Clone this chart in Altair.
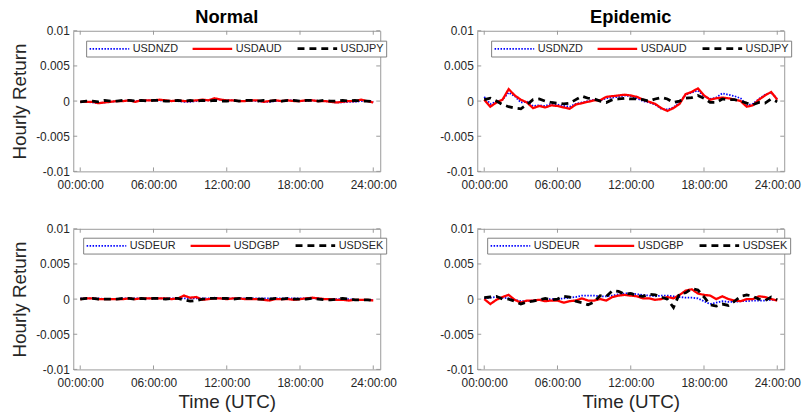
import altair as alt
import pandas as pd

hours = [i * 0.5 for i in range(49)]

# ---- Normal, top (USDNZD, USDAUD, USDJPY)
n_nzd = [-0.0001, -0.0001, -0.0002, -0.0003, -0.0002, -0.0001, 0.0000, 0.0000, 0.0001, 0.0000,
         0.0001, 0.0001, 0.0001, 0.0001, 0.0000, 0.0000, 0.0000, -0.0001, -0.0001, 0.0000,
         0.0001, 0.0001, 0.0003, 0.0002, 0.0001, 0.0001, 0.0000, 0.0000, 0.0001, 0.0000,
         -0.0001, -0.0001, 0.0000, 0.0000, 0.0001, 0.0001, 0.0000, 0.0000, 0.0001, 0.0000,
         0.0000, -0.0001, -0.0002, -0.0002, -0.0001, -0.0001, 0.0000, 0.0000, -0.0001]
n_aud = [-0.0001, -0.0001, -0.0001, -0.0003, -0.0002, -0.0001, 0.0000, 0.0000, 0.0001, -0.0001,
         0.0001, 0.0001, 0.0001, 0.0002, 0.0001, 0.0000, 0.0001, 0.0000, 0.0000, 0.0001,
         0.0002, 0.0001, 0.0004, 0.0002, 0.0001, 0.0001, 0.0000, 0.0000, 0.0001, 0.0001,
         -0.0001, 0.0000, 0.0001, 0.0000, 0.0001, 0.0000, 0.0000, 0.0001, 0.0001, 0.0000,
         0.0000, -0.0001, -0.0002, -0.0001, 0.0000, 0.0000, 0.0002, 0.0000, -0.0002]
n_jpy = [-0.0001, 0.0000, 0.0000, -0.0001, 0.0001, 0.0000, 0.0000, 0.0001, 0.0001, 0.0000,
         0.0001, 0.0000, 0.0001, 0.0001, 0.0000, 0.0000, 0.0001, 0.0000, 0.0001, 0.0000,
         0.0001, 0.0000, 0.0001, 0.0000, 0.0000, 0.0001, 0.0000, 0.0001, 0.0001, 0.0000,
         0.0001, 0.0000, 0.0001, 0.0000, 0.0001, 0.0001, 0.0000, 0.0001, 0.0001, 0.0000,
         0.0001, 0.0000, 0.0000, 0.0001, 0.0000, 0.0001, 0.0000, 0.0000, -0.0001]

# ---- Epidemic, top
e_nzd = [0.0006, -0.0004, -0.0001, 0.0002, 0.0012, 0.0007, -0.0002, -0.0001, -0.0007, -0.0006,
         -0.0007, -0.0004, -0.0005, -0.0007, -0.0008, -0.0004, -0.0002, 0.0000, 0.0002, 0.0001,
         0.0004, 0.0005, 0.0006, 0.0008, 0.0007, 0.0004, 0.0000, -0.0002, -0.0005, -0.0011,
         -0.0012, -0.0009, -0.0002, 0.0009, 0.0012, 0.0015, 0.0007, 0.0003, 0.0005, 0.0011,
         0.0009, 0.0007, 0.0004, -0.0006, -0.0004, 0.0003, 0.0009, 0.0012, 0.0003]
e_aud = [0.0002, -0.0008, -0.0002, 0.0002, 0.0017, 0.0008, 0.0002, -0.0002, -0.0010, -0.0007,
         -0.0009, -0.0006, -0.0007, -0.0009, -0.0011, -0.0005, -0.0003, -0.0001, 0.0001, 0.0001,
         0.0006, 0.0007, 0.0008, 0.0009, 0.0008, 0.0006, 0.0002, -0.0001, -0.0004, -0.0010,
         -0.0014, -0.0010, -0.0004, 0.0010, 0.0013, 0.0018, 0.0008, 0.0002, 0.0004, 0.0005,
         0.0004, 0.0002, 0.0000, -0.0008, -0.0006, 0.0002, 0.0008, 0.0013, 0.0002]
e_jpy = [0.0002, 0.0004, 0.0000, -0.0005, -0.0008, -0.0010, -0.0011, -0.0005, 0.0002, 0.0003,
         0.0000, -0.0002, -0.0003, -0.0004, -0.0003, 0.0002, 0.0007, 0.0004, 0.0003, 0.0000,
         -0.0002, 0.0002, 0.0003, 0.0004, 0.0003, 0.0003, 0.0002, 0.0000, 0.0003, 0.0005,
         0.0003, -0.0002, 0.0000, 0.0004, 0.0005, 0.0008, 0.0004, -0.0002, -0.0002, 0.0003,
         0.0002, 0.0002, 0.0000, -0.0003, -0.0005, -0.0002, -0.0003, 0.0003, -0.0001]

# ---- Normal, bottom (USDEUR, USDGBP, USDSEK)
n_eur = [0.0001, 0.0001, 0.0001, 0.0001, 0.0000, 0.0000, 0.0000, 0.0001, 0.0001, 0.0001,
         0.0001, 0.0001, 0.0001, 0.0001, 0.0001, 0.0001, 0.0001, 0.0001, 0.0001, 0.0001,
         0.0001, 0.0001, 0.0002, 0.0001, 0.0001, 0.0001, 0.0001, 0.0001, 0.0001, 0.0001,
         0.0001, 0.0001, 0.0001, 0.0001, 0.0001, 0.0001, 0.0001, 0.0001, 0.0001, 0.0001,
         0.0000, 0.0000, 0.0000, 0.0000, 0.0000, -0.0001, -0.0001, -0.0001, -0.0001]
n_gbp = [0.0000, 0.0001, 0.0001, 0.0000, 0.0000, 0.0000, 0.0000, 0.0000, 0.0001, 0.0000,
         0.0001, 0.0001, 0.0001, 0.0001, 0.0001, 0.0000, 0.0001, 0.0005, 0.0002, 0.0003,
         -0.0001, 0.0000, 0.0001, 0.0001, 0.0000, 0.0001, 0.0001, 0.0000, 0.0000, 0.0000,
         -0.0001, -0.0002, 0.0000, 0.0000, 0.0000, -0.0001, 0.0000, 0.0001, 0.0002, 0.0001,
         0.0000, 0.0000, -0.0001, -0.0001, -0.0002, -0.0001, -0.0001, -0.0001, -0.0002]
n_sek = [0.0000, 0.0001, 0.0001, 0.0000, 0.0000, 0.0000, 0.0000, 0.0001, 0.0001, 0.0000,
         0.0001, 0.0000, 0.0001, 0.0001, 0.0000, 0.0001, 0.0001, -0.0001, -0.0003, -0.0002,
         0.0000, 0.0001, 0.0001, 0.0001, 0.0001, 0.0000, 0.0001, 0.0001, 0.0001, 0.0000,
         0.0000, 0.0000, 0.0001, 0.0000, 0.0001, 0.0000, 0.0000, 0.0000, 0.0001, 0.0000,
         -0.0001, -0.0001, 0.0000, 0.0001, 0.0000, -0.0001, -0.0001, -0.0001, -0.0002]

# ---- Epidemic, bottom
e_eur = [0.0001, 0.0002, 0.0003, 0.0002, 0.0001, -0.0001, -0.0003, -0.0003, -0.0002, -0.0001,
         0.0000, 0.0000, 0.0000, 0.0001, 0.0002, 0.0003, 0.0005, 0.0005, 0.0005, 0.0004,
         0.0004, 0.0005, 0.0007, 0.0008, 0.0008, 0.0007, 0.0006, 0.0005, 0.0004, 0.0005,
         0.0005, 0.0004, 0.0003, 0.0002, 0.0002, 0.0001, -0.0003, -0.0007, -0.0005, -0.0003,
         -0.0004, -0.0004, -0.0003, -0.0003, -0.0002, -0.0002, -0.0002, -0.0001, -0.0001]
e_gbp = [0.0000, -0.0007, -0.0001, 0.0003, 0.0006, -0.0001, -0.0005, -0.0002, -0.0002, -0.0001,
         -0.0003, -0.0002, -0.0002, -0.0005, -0.0003, -0.0002, 0.0001, -0.0002, -0.0002, 0.0000,
         -0.0002, 0.0003, 0.0005, 0.0006, 0.0005, 0.0004, 0.0001, 0.0001, -0.0001, 0.0000,
         0.0003, 0.0001, 0.0006, 0.0012, 0.0014, 0.0008, 0.0006, 0.0005, 0.0000, 0.0004,
         0.0000, -0.0002, -0.0003, 0.0000, 0.0000, 0.0004, 0.0003, 0.0000, -0.0002]
e_sek = [0.0002, 0.0003, 0.0004, 0.0000, 0.0000, -0.0003, -0.0007, -0.0004, -0.0003, -0.0001,
         0.0001, -0.0001, 0.0000, 0.0004, 0.0003, -0.0003, -0.0005, -0.0008, -0.0004, 0.0005,
         0.0004, 0.0012, 0.0011, 0.0007, 0.0008, 0.0005, 0.0004, 0.0007, 0.0006, 0.0003,
         0.0000, -0.0012, 0.0008, 0.0009, 0.0015, 0.0013, 0.0003, -0.0008, -0.0010, -0.0007,
         -0.0009, -0.0003, 0.0004, 0.0006, 0.0004, 0.0000, -0.0002, 0.0003, -0.0001]

top_names = ["USDNZD", "USDAUD", "USDJPY"]
bot_names = ["USDEUR", "USDGBP", "USDSEK"]
x_ticks = [0, 6, 12, 18, 24]
y_ticks = [-0.01, -0.005, 0, 0.005, 0.01]

W, H = 310, 142
FONT = "Liberation Sans"
GRAY = "#9a9a9a"
TXT = "#262626"


def make_panel(names, series, title_text, ytitle, xtitle, lx, ly):
    rows = []
    for name, vals in zip(names, series):
        for t, v in zip(hours, vals):
            rows.append({"t": t, "v": v, "s": name})
    df = pd.DataFrame(rows)

    xaxis_kw = dict(values=x_ticks, labelExpr="(datum.value < 10 ? '0' : '') + datum.value + ':00:00'",
                    domain=False, ticks=False, grid=False, labelPadding=8,
                    labelFont=FONT, labelFontSize=12, labelColor=TXT,
                    titleFont=FONT, titleFontSize=19, titleFontWeight="normal", titleColor=TXT,
                    titlePadding=4)
    xaxis_kw["title"] = xtitle if xtitle else None
    yaxis_kw = dict(values=y_ticks, labelExpr="'' + datum.value",
                    domain=False, ticks=False, grid=False, labelPadding=4,
                    labelFont=FONT, labelFontSize=12, labelColor=TXT,
                    titleFont=FONT, titleFontSize=19, titleFontWeight="normal", titleColor=TXT,
                    titlePadding=6)
    yaxis_kw["title"] = ytitle if ytitle else None

    xs = alt.Scale(domain=[-0.57, 24.57], nice=False, zero=False)
    ys = alt.Scale(domain=[-0.01, 0.01], nice=False, zero=False)
    X = alt.X("t:Q", scale=xs, axis=alt.Axis(**xaxis_kw))
    Y = alt.Y("v:Q", scale=ys, axis=alt.Axis(**yaxis_kw))

    leg = alt.Legend(orient="none", legendX=lx, legendY=ly, direction="horizontal", title=None,
                     symbolType="M-1,0H9", symbolSize=64, labelFont=FONT, labelFontSize=11,
                     labelColor=TXT, strokeColor="#7f7f7f", fillColor="white", padding=2,
                     columnPadding=9, labelOffset=34, columns=3)

    lines = alt.Chart(df).mark_line(clip=True).encode(
        x=X, y=Y,
        color=alt.Color("s:N", scale=alt.Scale(domain=names, range=["#0000ff", "#ff0000", "#000000"]), legend=leg),
        strokeDash=alt.StrokeDash("s:N", scale=alt.Scale(domain=names, range=[[1.5, 1.5], [1, 0], [7, 5]]), legend=leg),
        strokeWidth=alt.StrokeWidth("s:N", scale=alt.Scale(domain=names, range=[1.8, 2.8, 2.6]), legend=leg),
        order=alt.Order("o:Q"),
    ).transform_calculate(o="indexof(%s, datum.s)" % str(names))

    ydf = pd.DataFrame({"v": y_ticks})
    xdf = pd.DataFrame({"t": x_ticks})
    tl = alt.Chart(ydf).mark_rule(color=GRAY, strokeWidth=1).encode(y=Y, x=alt.value(0), x2=alt.value(4))
    tr = alt.Chart(ydf).mark_rule(color=GRAY, strokeWidth=1).encode(y=Y, x=alt.value(W - 4), x2=alt.value(W))
    tb = alt.Chart(xdf).mark_rule(color=GRAY, strokeWidth=1).encode(x=X, y=alt.value(H - 4), y2=alt.value(H))
    tt = alt.Chart(xdf).mark_rule(color=GRAY, strokeWidth=1).encode(x=X, y=alt.value(0), y2=alt.value(4))

    props = dict(width=W, height=H)
    if title_text:
        props["title"] = alt.TitleParams(title_text, font=FONT, fontSize=18.5, fontWeight="bold",
                                         color="#000000", offset=-2, frame="group")
    return alt.layer(tl, tr, tb, tt, lines).properties(**props)


p1 = make_panel(top_names, [n_nzd, n_aud, n_jpy], "Normal", "Hourly Return", None, 13, 10)
p2 = make_panel(top_names, [e_nzd, e_aud, e_jpy], "Epidemic", None, None, 14, 10)
p3 = make_panel(bot_names, [n_eur, n_gbp, n_sek], None, "Hourly Return", "Time (UTC)", 10, 9)
p4 = make_panel(bot_names, [e_eur, e_gbp, e_sek], None, None, "Time (UTC)", 10, 9)

chart = alt.concat(p1, p2, p3, p4, columns=2, spacing={"row": 58, "column": 98}, bounds="flush").resolve_scale(
    color="independent", strokeDash="independent", strokeWidth="independent"
).resolve_legend(
    color="independent", strokeDash="independent", strokeWidth="independent"
).properties(
    padding={"left": 10, "top": 6, "right": 5, "bottom": 5}, background="white"
).configure_view(stroke=GRAY, strokeWidth=1)

chart.save("out.html", embed_options={"renderer": "svg", "actions": False})
